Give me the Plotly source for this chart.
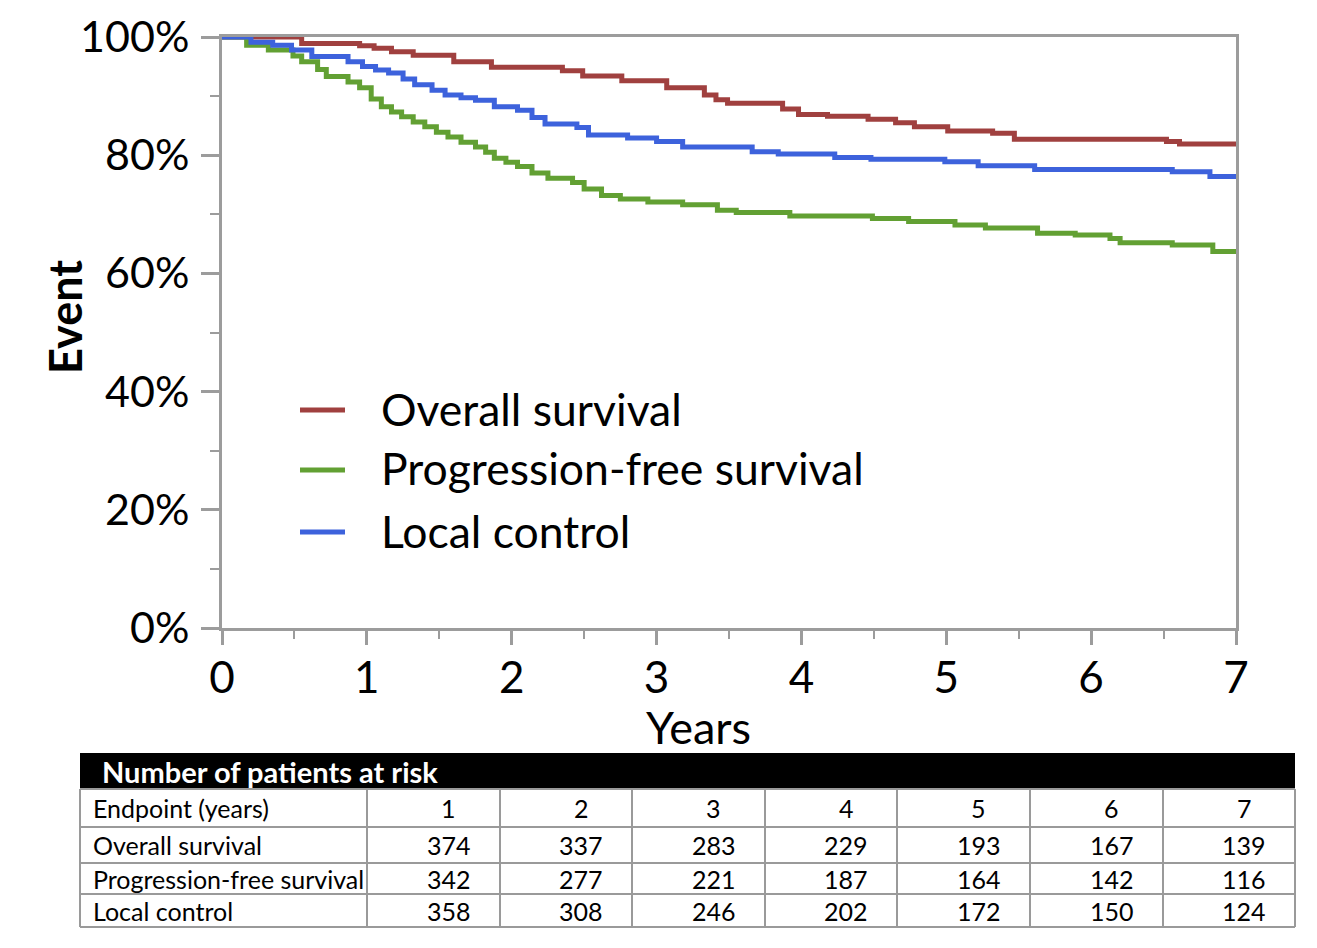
import plotly.graph_objects as go

# Kaplan-Meier step estimates (years, percent event-free)
os_years = [0, 0.55, 0.95, 1.05, 1.17, 1.32, 1.60, 1.86, 2.35, 2.49, 2.76, 3.07, 3.33, 3.41, 3.49,
            3.87, 3.98, 4.18, 4.46, 4.65, 4.78, 5.01, 5.32, 5.47, 6.52, 6.61, 7.0]
os_pct = [100, 98.9, 98.5, 98.1, 97.5, 96.9, 95.8, 94.9, 94.3, 93.4, 92.6, 91.4, 90.2, 89.4, 88.8,
          87.8, 86.9, 86.6, 86.1, 85.5, 84.8, 84.1, 83.7, 82.7, 82.3, 81.9, 81.9]

pfs_years = [0, 0.17, 0.32, 0.49, 0.55, 0.66, 0.72, 0.87, 0.95, 1.03, 1.10, 1.17, 1.24, 1.32, 1.40,
             1.48, 1.56, 1.65, 1.75, 1.82, 1.88, 1.96, 2.04, 2.14, 2.25, 2.42, 2.50, 2.62, 2.75,
             2.94, 3.18, 3.42, 3.55, 3.92, 4.49, 4.74, 5.06, 5.27, 5.63, 5.89, 6.13, 6.20, 6.56,
             6.84, 7.0]
pfs_pct = [100, 98.6, 97.8, 96.8, 95.8, 94.5, 93.3, 92.4, 91.4, 89.5, 88.2, 87.3, 86.5, 85.6, 84.8,
           83.9, 83.1, 82.2, 81.4, 80.5, 79.5, 78.8, 78.1, 77.0, 76.1, 75.4, 74.3, 73.2, 72.6,
           72.1, 71.6, 70.7, 70.3, 69.7, 69.3, 68.8, 68.2, 67.7, 66.8, 66.5, 65.9, 65.2, 64.8,
           63.7, 63.7]

lc_years = [0, 0.20, 0.35, 0.48, 0.62, 0.87, 0.97, 1.06, 1.15, 1.25, 1.33, 1.45, 1.54, 1.65, 1.75,
            1.88, 2.04, 2.14, 2.23, 2.45, 2.53, 2.80, 3.00, 3.18, 3.66, 3.84, 4.23, 4.48, 4.99,
            5.22, 5.61, 6.56, 6.82, 7.0]
lc_pct = [100, 99.1, 98.6, 97.8, 96.7, 95.8, 95.0, 94.4, 93.9, 92.9, 91.9, 91.0, 90.2, 89.7, 89.3,
          88.2, 87.6, 86.4, 85.3, 84.7, 83.4, 82.9, 82.3, 81.4, 80.6, 80.2, 79.6, 79.3, 78.9,
          78.2, 77.6, 77.2, 76.4, 76.4]

# Number-at-risk table
risk_years = [1, 2, 3, 4, 5, 6, 7]
risk_rows = ["Overall survival", "Progression-free survival", "Local control"]
risk_os = [374, 337, 283, 229, 193, 167, 139]
risk_pfs = [342, 277, 221, 187, 164, 142, 116]
risk_lc = [358, 308, 246, 202, 172, 150, 124]

y_ticks = [0, 20, 40, 60, 80, 100]
y_labels = [f"{v}%" for v in y_ticks]
x_ticks = [0, 1, 2, 3, 4, 5, 6, 7]

W, H = 1317, 948
FONT = "Lato, Roboto, sans-serif"
AXIS_GREY = "#9c9c9c"
LINE_W = 5


def px(x):
    return x / W


def py(y):
    return 1 - y / H


def label(x, y, text, size, xanchor="center", yanchor="middle", color="black", angle=0):
    fig.add_annotation(x=px(x), y=py(y), xref="paper", yref="paper", text=text,
                       xanchor=xanchor, yanchor=yanchor, textangle=angle, showarrow=False,
                       font=dict(size=size, family=FONT, color=color))


fig = go.Figure()
series = [
    ("Overall survival", os_years, os_pct, "#a0403f"),
    ("Progression-free survival", pfs_years, pfs_pct, "#62a033"),
    ("Local control", lc_years, lc_pct, "#3d62dc"),
]
for name, xs, ys, col in series:
    fig.add_trace(go.Scatter(x=xs, y=ys, name=name, mode="lines", line_shape="hv",
                             line=dict(color=col, width=LINE_W), showlegend=False))

fig.update_layout(
    width=W, height=H,
    margin=dict(l=0, r=0, t=0, b=0, pad=0),
    paper_bgcolor="white", plot_bgcolor="white",
    font=dict(family=FONT, color="black"),
    xaxis=dict(domain=[px(222), px(1236)], range=[0, 7], tickvals=x_ticks, automargin=False,
               showline=True, linecolor=AXIS_GREY, linewidth=3, mirror=True,
               ticks="outside", ticklen=14, tickwidth=2.5, tickcolor=AXIS_GREY,
               minor=dict(dtick=0.5, ticks="outside", ticklen=8, tickwidth=2, tickcolor=AXIS_GREY),
               showgrid=False, zeroline=False,
               tickfont=dict(size=44, family=FONT), ticklabelstandoff=-5),
    yaxis=dict(domain=[py(628), py(37)], range=[0, 100], tickvals=y_ticks, ticktext=y_labels,
               automargin=False,
               showline=True, linecolor=AXIS_GREY, linewidth=3, mirror=True,
               ticks="outside", ticklen=18, tickwidth=2.5, tickcolor=AXIS_GREY,
               minor=dict(dtick=10, ticks="outside", ticklen=9, tickwidth=2, tickcolor=AXIS_GREY),
               showgrid=False, zeroline=False,
               tickfont=dict(size=43, family=FONT), ticklabelstandoff=3),
)

# Axis titles
label(698, 727, "Years", 45)
label(65, 317, "<b>Event</b>", 45, angle=-90)

# Legend: short line sample followed by series name
legend_rows = [410, 470, 532]
for (name, _, _, col), ly in zip(series, legend_rows):
    fig.add_shape(type="line", xref="paper", yref="paper", x0=px(300), x1=px(345),
                  y0=py(ly), y1=py(ly), line=dict(color=col, width=LINE_W))
    label(379, ly - 2, name, 44.5, xanchor="left")

# Table frame
tbl_left, tbl_right = 80, 1295
head_top, head_bot = 753, 789
row_lines = [789, 827, 863, 894, 927]
col_lines = [80, 367, 500, 632, 765, 897, 1030, 1163, 1295]
GRID = "#9a9a9a"

fig.add_shape(type="rect", xref="paper", yref="paper",
              x0=px(tbl_left), x1=px(tbl_right), y0=py(head_bot), y1=py(head_top),
              fillcolor="black", line=dict(width=0))
for ry in row_lines:
    fig.add_shape(type="line", xref="paper", yref="paper", x0=px(tbl_left), x1=px(tbl_right),
                  y0=py(ry), y1=py(ry), line=dict(color=GRID, width=2))
for cx in col_lines:
    fig.add_shape(type="line", xref="paper", yref="paper", x0=px(cx), x1=px(cx),
                  y0=py(row_lines[0]), y1=py(row_lines[-1]), line=dict(color=GRID, width=2))

label(100, 771, "<b>Number of patients at risk</b>", 29, xanchor="left", color="white")

row_centres = [(row_lines[i] + row_lines[i + 1]) / 2 for i in range(len(row_lines) - 1)]
col_centres = [(col_lines[i] + col_lines[i + 1]) / 2 + 15 for i in range(1, len(col_lines) - 1)]

labels = ["Endpoint (years)"] + risk_rows
values = [risk_years, risk_os, risk_pfs, risk_lc]
for r, (lab, vals) in enumerate(zip(labels, values)):
    yc = row_centres[r]
    label(91, yc, lab, 25, xanchor="left")
    for cxc, v in zip(col_centres, vals):
        label(cxc, yc, str(v), 25)

fig.write_html("out.html")
